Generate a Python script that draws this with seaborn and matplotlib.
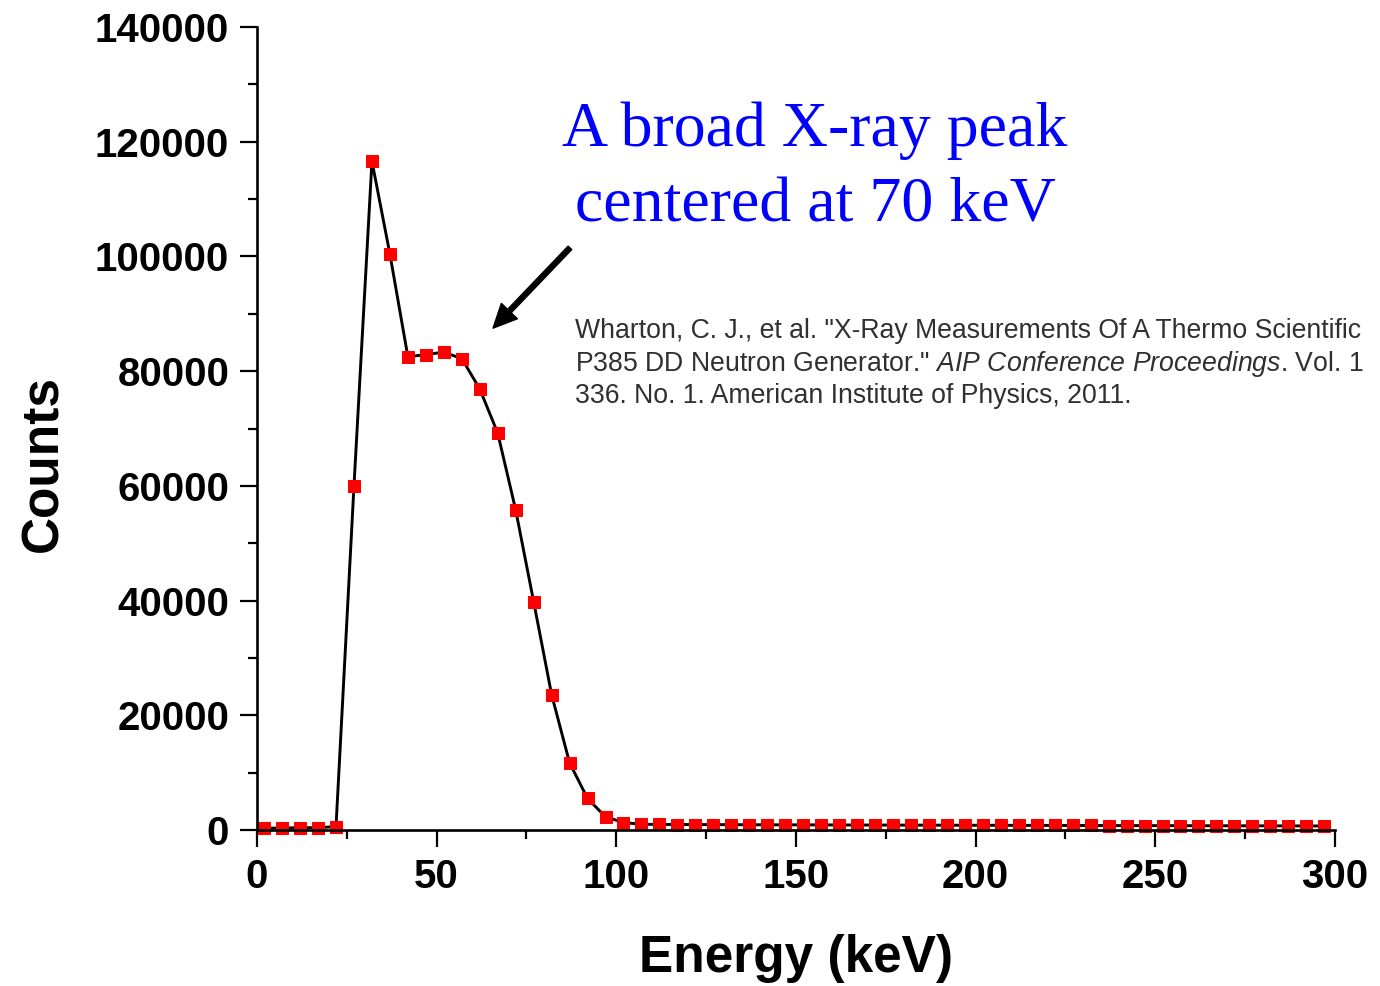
import numpy as np
import pandas as pd
import matplotlib.pyplot as plt
from matplotlib.ticker import AutoMinorLocator, MultipleLocator
import seaborn as sns

# spectrum (bin centres in keV, counts)
energy = [2, 7, 12, 17, 22, 27, 32, 37, 42, 47,
          52, 57, 62, 67, 72, 77, 82, 87, 92, 97,
          102, 107, 112, 117, 122, 127, 132, 137, 142, 147,
          152, 157, 162, 167, 172, 177, 182, 187, 192, 197,
          202, 207, 212, 217, 222, 227, 232, 237, 242, 247,
          252, 257, 262, 267, 272, 277, 282, 287, 292, 297]
counts = [300, 350, 400, 400, 600, 60000, 116600, 100400, 82500, 82900,
          83300, 82200, 76900, 69200, 55800, 39800, 23600, 11700, 5500, 2300,
          1300, 1000, 980, 960, 950, 940, 930, 920, 910, 900,
          900, 890, 880, 870, 870, 860, 850, 850, 840, 830,
          830, 820, 810, 810, 800, 790, 790, 780, 770, 770,
          760, 760, 750, 740, 740, 730, 730, 720, 710, 700]

annotation = "A broad X-ray peak\ncentered at 70 keV"
citation = ('Wharton, C. J., et al. "X-Ray Measurements Of A Thermo Scientific\n'
            'P385 DD Neutron Generator." $\\it{AIP\\ Conference\\ Proceedings}$. Vol. 1\n'
            '336. No. 1. American Institute of Physics, 2011.')

df = pd.DataFrame({"Energy (keV)": energy, "Counts": counts})

sns.set_theme(style="ticks")
plt.rcParams['font.family'] = ['Liberation Sans', 'DejaVu Sans']
plt.rcParams['text.color'] = 'black'
plt.rcParams['axes.labelcolor'] = 'black'
plt.rcParams['mathtext.fontset'] = 'custom'
plt.rcParams['mathtext.rm'] = 'Liberation Sans'
plt.rcParams['mathtext.it'] = 'Liberation Sans:italic'

fig = plt.figure(figsize=(13.8, 9.86), dpi=100)
ax = fig.add_axes([0.1862, 0.1582, 0.7812, 0.8144])

sns.lineplot(data=df, x="Energy (keV)", y="Counts", ax=ax,
             color="black", linewidth=2.1, marker="s", markersize=8,
             markerfacecolor="red", markeredgecolor="red", clip_on=False)

ax.set_xlim(0, 300)
ax.set_ylim(0, 140000)
ax.xaxis.set_major_locator(MultipleLocator(50))
ax.yaxis.set_major_locator(MultipleLocator(20000))
ax.xaxis.set_minor_locator(AutoMinorLocator(2))
ax.yaxis.set_minor_locator(AutoMinorLocator(2))

sns.despine(ax=ax)
for sp in ["left", "bottom"]:
    ax.spines[sp].set_linewidth(1.9)
    ax.spines[sp].set_color("black")

ax.tick_params(which="major", direction="out", length=12, width=1.6,
               labelsize=29, pad=8, colors="black")
ax.tick_params(which="minor", direction="out", length=6.5, width=1.6, colors="black")
for lbl in ax.get_xticklabels() + ax.get_yticklabels():
    lbl.set_fontweight("bold")

ax.set_xlabel("Energy (keV)", fontsize=37, fontweight="bold")
ax.set_ylabel("Counts", fontsize=37, fontweight="bold")
ax.xaxis.set_label_coords(0.5, -0.13)
ax.yaxis.set_label_coords(-0.175, 0.456)

ax.text(0.5176, 0.8235, annotation, transform=ax.transAxes, ha="center", va="center",
        fontsize=46, color="#0000FF", family=["Liberation Serif", "DejaVu Serif"],
        linespacing=1.4)

ax.annotate("", xy=(65.7, 87500), xytext=(87.1, 101500),
            arrowprops=dict(facecolor="black", edgecolor="black", width=3.6,
                            headwidth=16, headlength=17))

ax.text(0.295, 0.638, citation, transform=ax.transAxes, ha="left", va="top",
        fontsize=19.2, color="#303030", linespacing=1.22)

plt.savefig("out.png", dpi=100, facecolor="white")
